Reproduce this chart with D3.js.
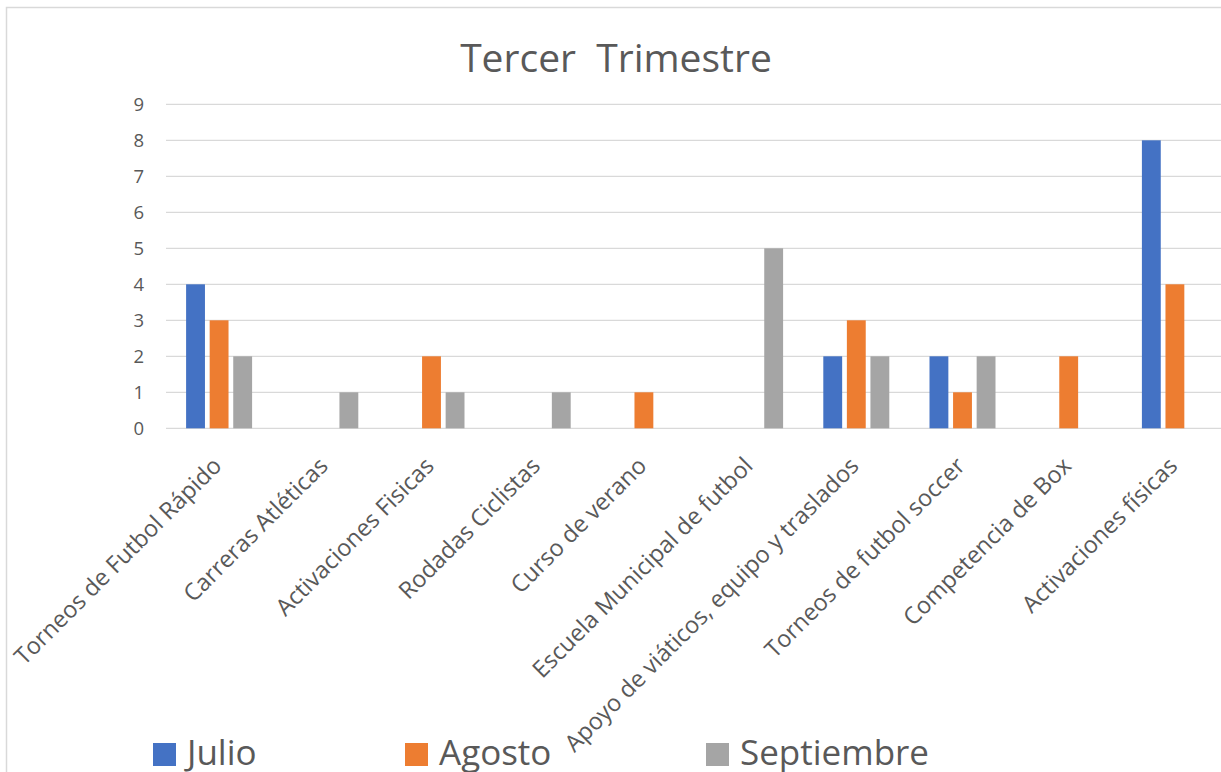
<!DOCTYPE html>
<html>
<head>
<meta charset="utf-8">
<script src="https://cdn.jsdelivr.net/npm/d3@7"></script>
<style>
  html, body { margin: 0; padding: 0; background: #fff; }
  svg { display: block; font-family: "Open Sans", "Noto Sans", sans-serif; }
  text { fill: #595959; }
</style>
</head>
<body>
<svg id="chart" width="1221" height="772"></svg>
<script>
const title = "Tercer  Trimestre";
const categories = [
  "Torneos de Futbol Rápido",
  "Carreras Atléticas",
  "Activaciones Fisicas",
  "Rodadas Ciclistas",
  "Curso de verano",
  "Escuela Municipal de futbol",
  "Apoyo de viáticos, equipo y traslados",
  "Torneos de futbol soccer",
  "Competencia de Box",
  "Activaciones físicas"
];
const seriesNames = ["Julio", "Agosto", "Septiembre"];
const julio      = [4, 0, 0, 0, 0, 0, 2, 2, 0, 8];
const agosto     = [3, 0, 2, 0, 1, 0, 3, 1, 2, 4];
const septiembre = [2, 1, 1, 1, 0, 5, 2, 2, 0, 0];
const seriesColors = ["#4472C4", "#ED7D31", "#A5A5A5"];
const yTicks = [0, 1, 2, 3, 4, 5, 6, 7, 8, 9];

const seriesValues = [julio, agosto, septiembre];
const svg = d3.select("#chart");

// chart border
svg.append("rect")
  .attr("x", 6.5).attr("y", 7.5)
  .attr("width", 1240).attr("height", 800)
  .attr("fill", "none").attr("stroke", "#D9D9D9").attr("stroke-width", 1.5);

const plot = { left: 166, right: 1228, top: 104.3, bottom: 428.3 };

const x0 = d3.scaleBand().domain(categories).range([plot.left, plot.right]);
const groupW = 66;
const x1 = d3.scaleBand().domain(seriesNames).range([0, groupW]).paddingInner(0.2);
const y = d3.scaleLinear().domain([0, 9]).range([plot.bottom, plot.top]);

// gridlines
svg.append("g").selectAll("line").data(yTicks).join("line")
  .attr("x1", plot.left).attr("x2", 1221)
  .attr("y1", d => y(d)).attr("y2", d => y(d))
  .attr("stroke", "#D9D9D9").attr("stroke-width", 1.3);

// y tick labels
svg.append("g").selectAll("text").data(yTicks).join("text")
  .attr("x", 144).attr("y", d => y(d))
  .attr("dy", "0.36em")
  .attr("text-anchor", "end")
  .attr("font-size", 18.5)
  .text(d => d);

// bars
const barData = [];
categories.forEach((c, i) => {
  seriesNames.forEach((s, j) => {
    barData.push({ cat: c, series: s, value: seriesValues[j][i], color: seriesColors[j] });
  });
});
const offset = x0.bandwidth() / 2 - groupW / 2;
svg.append("g").selectAll("rect").data(barData.filter(d => d.value > 0)).join("rect")
  .attr("x", d => x0(d.cat) + offset + x1(d.series))
  .attr("y", d => y(d.value))
  .attr("width", x1.bandwidth())
  .attr("height", d => y(0) - y(d.value))
  .attr("fill", d => d.color);

// category labels
svg.append("g").selectAll("text").data(categories).join("text")
  .attr("transform", d => `translate(${x0(d) + x0.bandwidth() / 2 + 4},${plot.bottom + 39}) rotate(-45)`)
  .attr("text-anchor", "end")
  .attr("font-size", 23.5)
  .text(d => d);

// title
svg.append("text")
  .attr("x", 616).attr("y", 72)
  .attr("text-anchor", "middle")
  .attr("font-size", 39)
  .style("white-space", "pre")
  .text(title);

// legend
const legendX = [153, 405, 706];
const lg = svg.append("g").selectAll("g").data(seriesNames).join("g")
  .attr("transform", (d, i) => `translate(${legendX[i]},743)`);
lg.append("rect").attr("width", 23).attr("height", 23)
  .attr("fill", (d, i) => seriesColors[i]);
lg.append("text").attr("x", 34).attr("y", 22)
  .attr("font-size", 35)
  .text(d => d);
</script>
</body>
</html>
